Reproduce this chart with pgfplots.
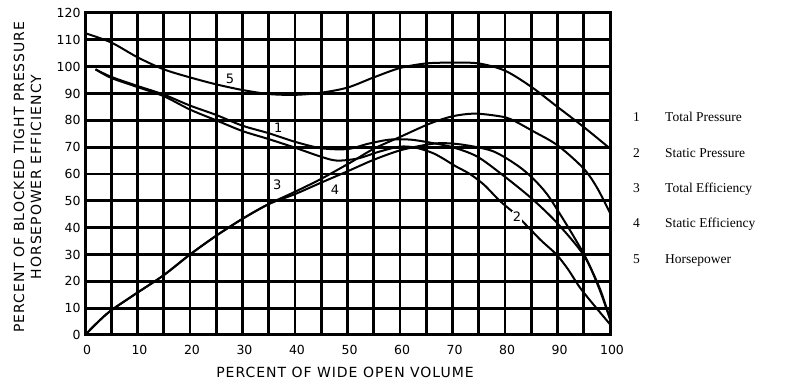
\documentclass[border=0pt]{standalone}
\usepackage{fontspec}
\setmainfont{DejaVu Sans}
\newfontfamily\serifont{Liberation Serif}
\newfontfamily\lblfont[LetterSpace=7]{DejaVu Sans}
\usepackage{pgfplots}
\pgfplotsset{compat=1.18}
\pgfplotsset{curve/.style={black, line width=2pt, smooth, tension=0.5, mark=none}}
\begin{document}
\begin{tikzpicture}
\begin{axis}[
  at={(0pt,0pt)}, anchor=south west,
  width=525pt, height=322pt, scale only axis,
  xmin=0, xmax=100, ymin=0, ymax=120,
  xtick={0,10,...,100}, minor xtick={5,15,...,95},
  ytick={0,10,...,120},
  xmajorgrids, ymajorgrids, xminorgrids,
  grid style={black, line width=2.8pt},
  major grid style={black, line width=2.8pt},
  minor grid style={black, line width=2.8pt},
  axis line style={black, line width=3pt},
  major tick length=0pt, minor tick length=0pt,
  /pgf/number format/assume math mode=true,
  ticklabel style={font=\fontsize{12.5}{12.5}\selectfont},
  xticklabel style={yshift=-7pt, xshift=2pt},
  yticklabel style={xshift=-1pt},
]
% 5 Horsepower
\addplot[curve] coordinates {(0,112.5)(5,109)(10,103.5)(15,99)(20,96)(25,93.4)(30,91.3)(35,89.8)(40,89.5)(45,90.3)(50,92.2)(55,96)(60,99.5)(65,101.2)(70,101.5)(75,101.2)(80,98.5)(85,92.5)(90,85)(95,77.5)(100,69.5)};
% 1 Total Pressure
\addplot[curve] coordinates {(2,99)(5,96.2)(10,92.8)(15,89.6)(20,85.5)(25,82)(30,78)(35,75.2)(40,72)(45,69.6)(50,69.3)(54,71.3)(58,72.8)(62,72.8)(66,71.6)(70,70)(74.7,66.5)(79.7,59.4)(85,51)(89.8,42)(94.9,30)(98,17.6)(100,6)};
% 2 Static Pressure
\addplot[curve] coordinates {(2,99)(5,95.8)(10,92.4)(15,89)(20,84)(25,80)(30,76)(35,73)(40,69.8)(45,66.4)(48,65)(52,65.8)(56,68.3)(60,70.2)(63,69.8)(66,68)(68,66)(70.5,63)(73.3,60)(76,56)(79,50)(82,45)(84.8,39.4)(87,35)(89.8,30)(92,24.5)(94.3,17.6)(97,11)(100,4)};
% 3 Total Efficiency
\addplot[curve] coordinates {(0,0)(2.5,4.9)(5,9.2)(10,15.8)(15,22.3)(20,30)(25,37)(30,43.3)(35,48.8)(39.7,53.1)(44.8,58)(50.5,64.2)(55,69.4)(60,73.8)(65.7,78.8)(70,81.5)(74,82.5)(78,81.8)(81,80.5)(85.3,76)(90,70.7)(94.9,62.2)(97.5,55)(100,45.5)};
% 4 Static Efficiency
\addplot[curve] coordinates {(0,0)(2.5,4.9)(5,9.2)(10,15.8)(15,22.3)(20,30)(25,37)(30,43.3)(35,48.8)(40,52.5)(45,56.8)(50,61)(55,65.3)(60,68.8)(65,70.9)(68,71.5)(72,70.9)(77.7,68.5)(82.5,63)(85.5,58)(88,52.5)(90.5,45)(93,37)(95.6,28)(98,17)(100,6)};
% curve labels
\node[fill=white, inner sep=0.6pt, font=\fontsize{13}{13}\selectfont] at (axis cs:27.6,95.6) {5};
\node[fill=white, inner sep=0.6pt, font=\fontsize{13}{13}\selectfont] at (axis cs:36.8,77.3) {1};
\node[fill=white, inner sep=0.6pt, font=\fontsize{13}{13}\selectfont] at (axis cs:36.6,55.8) {3};
\node[fill=white, inner sep=0.6pt, font=\fontsize{13}{13}\selectfont] at (axis cs:47.6,54.2) {4};
\node[fill=white, inner sep=0.6pt, font=\fontsize{13}{13}\selectfont] at (axis cs:82.3,44.2) {2};
\end{axis}
% axis titles
\node[font=\lblfont\fontsize{14}{14}\selectfont] at (260pt,-37pt) {PERCENT OF WIDE OPEN VOLUME};
\node[rotate=90, align=center, font=\lblfont\fontsize{14}{17}\selectfont] at (-57.5pt,158pt) {PERCENT OF BLOCKED TIGHT PRESSURE\\HORSEPOWER EFFICIENCY};
% legend
\begin{scope}[every node/.style={anchor=base west, inner sep=0pt, font=\serifont\fontsize{13.5}{13.5}\selectfont}]
\node at (548pt,213pt) {1};   \node at (580pt,213pt) {Total Pressure};
\node at (548pt,177.7pt) {2}; \node at (580pt,177.7pt) {Static Pressure};
\node at (548pt,142.4pt) {3}; \node at (580pt,142.4pt) {Total Efficiency};
\node at (548pt,107.1pt) {4}; \node at (580pt,107.1pt) {Static Efficiency};
\node at (548pt,71.8pt) {5};  \node at (580pt,71.8pt) {Horsepower};
\end{scope}
\pgfresetboundingbox
\path[use as bounding box] (-85pt,-50pt) rectangle (705pt,335pt);
\end{tikzpicture}
\end{document}
